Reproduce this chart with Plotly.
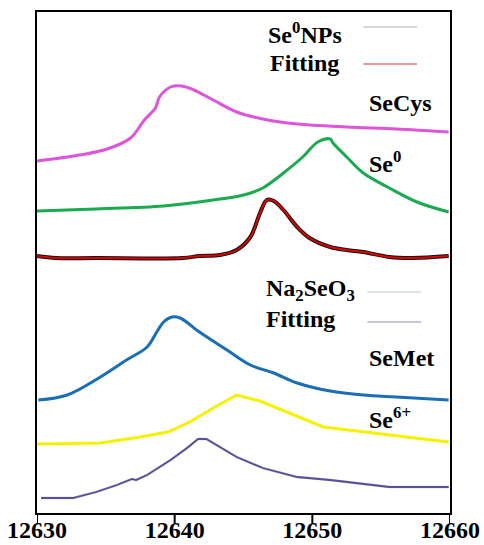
import plotly.graph_objects as go

# Energy (eV) and offset normalized intensity
secys_e = [12630.0, 12633.1, 12635.1, 12636.8, 12637.8, 12638.6, 12638.9, 12639.7, 12640.5, 12641.4,
           12642.8, 12644.5, 12646.4, 12648.9, 12652.5, 12656.1, 12659.9]
secys_y = [3.52, 3.58, 3.64, 3.75, 3.93, 4.05, 4.16, 4.26, 4.27, 4.23,
           4.13, 4.01, 3.94, 3.89, 3.86, 3.84, 3.81]

se0_e = [12630.0, 12634.3, 12639.2, 12642.8, 12645.0, 12646.4, 12647.9, 12649.3, 12650.4, 12651.3,
         12651.5, 12652.5, 12653.7, 12655.6, 12657.6, 12659.9]
se0_y = [3.02, 3.04, 3.07, 3.13, 3.18, 3.25, 3.40, 3.56, 3.71, 3.74,
         3.70, 3.56, 3.40, 3.25, 3.11, 3.01]

senps_e = [12630.0, 12631.4, 12634.3, 12640.6, 12641.8, 12643.3, 12644.5, 12645.5, 12646.2, 12646.7,
           12647.2, 12647.9, 12648.9, 12649.8, 12651.3, 12652.5, 12653.7, 12655.6, 12657.3, 12659.9]
senps_y = [2.57, 2.55, 2.55, 2.55, 2.57, 2.58, 2.63, 2.76, 3.00, 3.13,
           3.12, 3.03, 2.86, 2.75, 2.66, 2.63, 2.61, 2.56, 2.55, 2.57]
senps_fit_y = senps_y

semet_e = [12630.1, 12632.2, 12634.6, 12636.5, 12638.0, 12638.7, 12639.2, 12639.8, 12640.4, 12641.8,
           12643.8, 12645.5, 12647.2, 12648.9, 12651.3, 12653.7, 12656.1, 12659.9]
semet_y = [1.13, 1.18, 1.36, 1.53, 1.66, 1.81, 1.91, 1.96, 1.95, 1.81,
           1.63, 1.48, 1.40, 1.30, 1.22, 1.18, 1.16, 1.13]

se6_e = [12630.0, 12634.6, 12637.5, 12639.5, 12641.1, 12642.8, 12644.5, 12646.2, 12650.8, 12659.9]
se6_y = [0.69, 0.70, 0.76, 0.81, 0.91, 1.05, 1.18, 1.12, 0.86, 0.71]

na_e = [12630.3, 12632.6, 12634.3, 12635.8, 12636.9, 12637.2, 12638.0, 12639.7, 12640.9, 12641.7,
        12642.3, 12643.3, 12644.5, 12646.4, 12648.9, 12651.3, 12653.7, 12655.6, 12659.9]
na_y = [0.15, 0.15, 0.21, 0.28, 0.34, 0.33, 0.38, 0.53, 0.65, 0.74,
        0.74, 0.66, 0.56, 0.45, 0.36, 0.33, 0.29, 0.26, 0.26]
na_fit_y = na_y

x_ticks = [12630, 12640, 12650, 12660]

fig = go.Figure()
fig.add_trace(go.Scatter(x=secys_e, y=secys_y, mode="lines", line=dict(color="#dd55dd", width=3, shape="spline")))
fig.add_trace(go.Scatter(x=se0_e, y=se0_y, mode="lines", line=dict(color="#1aaa4f", width=3, shape="spline")))
fig.add_trace(go.Scatter(x=senps_e, y=senps_y, mode="lines", line=dict(color="#111111", width=4, shape="spline")))
fig.add_trace(go.Scatter(x=senps_e, y=senps_fit_y, mode="lines", line=dict(color="#e00000", width=2, shape="spline")))
fig.add_trace(go.Scatter(x=semet_e, y=semet_y, mode="lines", line=dict(color="#1a6eb5", width=3, shape="spline")))
fig.add_trace(go.Scatter(x=se6_e, y=se6_y, mode="lines", line=dict(color="#f5f200", width=3)))
fig.add_trace(go.Scatter(x=na_e, y=na_y, mode="lines", line=dict(color="#b9cccc", width=2.5)))
fig.add_trace(go.Scatter(x=na_e, y=na_fit_y, mode="lines", line=dict(color="#5b4c9c", width=1.8)))

font = dict(family="Liberation Serif", size=24, color="black")

def ann(text, x, y, xanchor="left"):
    fig.add_annotation(text="<b>" + text + "</b>", x=x, y=y, xref="x", yref="y",
                       xanchor=xanchor, yanchor="middle", showarrow=False, font=font)

ann("Se<sup>0</sup>NPs", 12652.3, 4.80, "right")
ann("Fitting", 12652.1, 4.50, "right")
ann("SeCys", 12654.0, 4.10)
ann("Se<sup>0</sup>", 12654.0, 3.51)
ann("Na<sub>2</sub>SeO<sub>3</sub>", 12646.5, 2.23)
ann("Fitting", 12646.5, 1.94)
ann("SeMet", 12654.0, 1.55)
ann("Se<sup>6+</sup>", 12654.0, 0.95)

for x0, x1, y, c in [(12653.7, 12657.6, 4.86, "#b0b0b0"), (12653.7, 12657.6, 4.49, "#e03030"),
                     (12654.0, 12657.9, 2.21, "#b9cccc"), (12654.0, 12657.9, 1.91, "#9b88c4")]:
    fig.add_shape(type="line", x0=x0, x1=x1, y0=y, y1=y, xref="x", yref="y",
                  line=dict(color=c, width=1.2))

# outside tick marks drawn as short segments below the axis at the tick positions
for tv in x_ticks:
    fig.add_shape(type="line", x0=tv, x1=tv, y0=0, y1=-0.02, xref="x", yref="y domain",
                  line=dict(color="black", width=2), layer="above")

fig.update_layout(
    width=484, height=545, showlegend=False,
    margin=dict(l=37, r=34, t=12, b=32, autoexpand=False),
    paper_bgcolor="white", plot_bgcolor="white",
)
fig.update_xaxes(range=[12630, 12660], tickvals=x_ticks, ticktext=[str(v) for v in x_ticks],
                 automargin=False,
                 showgrid=False, zeroline=False, showline=True, mirror=True, linecolor="black", linewidth=2,
                 ticks="", ticklabelstandoff=-6,
                 tickfont=dict(family="Liberation Serif", size=24, color="black", weight="bold"))
fig.update_yaxes(range=[0, 5.01], showgrid=False, zeroline=False, showline=True, mirror=True,
                 automargin=False,
                 linecolor="black", linewidth=2, showticklabels=False, ticks="")

fig.write_html("out.html")
